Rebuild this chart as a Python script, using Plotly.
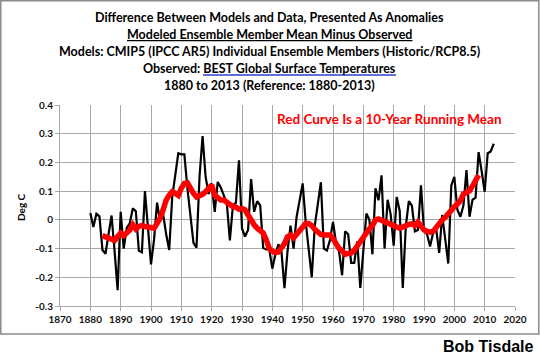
import plotly.graph_objects as go

years = list(range(1880, 2014))
diff = [
    0.024, -0.025, 0.021, 0.012, -0.105, -0.118, -0.05, 0.015, -0.11, -0.245,   # 1880s
    0.028, -0.10, -0.028, -0.012, 0.04, 0.03, -0.108, -0.113, 0.10, -0.015,     # 1890s
    -0.155, -0.07, 0.06, -0.005, 0.02, -0.05, -0.105, 0.08, 0.165, 0.232,       # 1900s
    0.228, 0.228, 0.11, 0.02, -0.08, -0.097, 0.15, 0.292, 0.15, 0.09,           # 1910s
    0.127, 0.028, 0.132, 0.113, 0.088, 0.057, -0.072, 0.05, 0.06, 0.207,        # 1920s
    -0.03, -0.058, -0.035, 0.142, 0.028, 0.065, 0.05, -0.098, -0.103, -0.103,   # 1930s
    -0.17, -0.12, -0.085, -0.11, -0.238, -0.11, -0.02, -0.10, 0.01, 0.072,      # 1940s
    0.127, -0.007, -0.10, -0.20, -0.02, 0.06, 0.131, -0.10, -0.107, -0.07,      # 1950s
    -0.007, -0.08, -0.11, -0.193, -0.04, -0.05, -0.15, -0.15, -0.075, -0.237,   # 1960s
    -0.09, 0.022, 0.0, -0.12, 0.11, 0.068, 0.155, -0.10, 0.07, 0.02,            # 1970s
    -0.09, 0.08, 0.03, -0.237, -0.023, 0.065, 0.05, -0.04, -0.035, 0.12,        # 1980s
    -0.04, -0.05, -0.093, -0.045, -0.03, -0.115, 0.017, -0.06, -0.152, 0.12,    # 1990s
    0.15, 0.035, 0.011, 0.05, 0.173, 0.011, 0.07, 0.077, 0.236, 0.17,           # 2000s
    0.098, 0.232, 0.238, 0.265,                                                 # 2010-2013
]

mean_years = list(range(1884, 2009))
running_mean = [
    -0.055, -0.060, -0.067, -0.069, -0.072, -0.058,                             # 1884-1889
    -0.046, -0.055, -0.045, -0.035, -0.017, -0.032, -0.023, -0.020, -0.023, -0.025,
    -0.029, -0.029, -0.012, 0.006, 0.035, 0.069, 0.086, 0.098, 0.092, 0.085,
    0.110, 0.127, 0.129, 0.109, 0.092, 0.080, 0.084, 0.089, 0.098, 0.109,
    0.121, 0.086, 0.075, 0.069, 0.069, 0.060, 0.052, 0.046, 0.044, 0.037,
    0.040, 0.035, 0.017, -0.002, -0.017, -0.029, -0.035, -0.046, -0.070, -0.100,
    -0.109, -0.114, -0.112, -0.100, -0.083, -0.059, -0.053, -0.063, -0.051, -0.036,
    -0.024, -0.013, -0.013, -0.020, -0.033, -0.042, -0.051, -0.053, -0.051, -0.053,
    -0.065, -0.083, -0.100, -0.106, -0.120, -0.117, -0.115, -0.106, -0.090, -0.080,
    -0.066, -0.043, -0.031, -0.020, 0.000, 0.003, -0.002, -0.008, -0.014, -0.020,
    -0.023, -0.025, -0.029, -0.023, -0.020, -0.016, -0.014, -0.020, -0.008, -0.023,
    -0.035, -0.040, -0.043, -0.040, -0.025, -0.014, 0.000, 0.009, 0.023, 0.038,
    0.046, 0.055, 0.067, 0.090, 0.095, 0.101, 0.118, 0.136, 0.156,
]

x_ticks = list(range(1870, 2021, 10))
y_ticks = [-0.3, -0.2, -0.1, 0.0, 0.1, 0.2, 0.3, 0.4]
y_tick_labels = ["-0.3", "-0.2", "-0.1", "0", "0.1", "0.2", "0.3", "0.4"]

title_lines = [
    "Difference Between Models and Data, Presented As Anomalies",
    "<u>Modeled Ensemble Member Mean Minus Observed</u>",
    "Models: CMIP5 (IPCC AR5) Individual Ensemble Members (Historic/RCP8.5)",
    "Observed: BEST Global Surface Temperatures",
    "1880 to 2013 (Reference: 1880-2013)",
]

W, H = 540, 356
L, R, T, B = 60, 25, 105, 50
PW, PH = W - L - R, H - T - B

def px(xp):
    return (xp - L) / PW

def py(yp):
    return (H - B - yp) / PH

fig = go.Figure()
fig.add_trace(go.Scatter(x=years, y=diff, mode="lines",
                         line=dict(color="black", width=2.2), showlegend=False))
fig.add_trace(go.Scatter(x=mean_years, y=running_mean, mode="lines",
                         line=dict(color="#ff0000", width=5.5), showlegend=False))

tfont = dict(family="Lato", size=12.5, color="black", weight="bold")
title_y = [17, 34.5, 52, 69, 85]
for txt, yy in zip(title_lines, title_y):
    fig.add_annotation(text=txt, x=px(269), y=py(yy), xref="paper", yref="paper",
                       showarrow=False, xanchor="center", yanchor="middle", font=tfont)

# blue hyperlink-style underline below "BEST Global Surface Temperatures"
fig.add_shape(type="line", xref="paper", yref="paper",
              x0=px(203), x1=px(396), y0=py(75), y1=py(75),
              line=dict(color="#2f3fc8", width=1.5))

fig.add_annotation(text="Red Curve Is a 10-Year Running Mean", x=px(389.5), y=py(119),
                   xref="paper", yref="paper", showarrow=False, xanchor="center",
                   yanchor="middle",
                   font=dict(family="Lato", size=13.5, color="#ff0000", weight="bold"))

fig.add_annotation(text="Deg C", x=px(21), y=py(207), xref="paper", yref="paper",
                   showarrow=False, textangle=-90, xanchor="center", yanchor="middle",
                   font=dict(family="Lato", size=10, color="black", weight="bold"))

fig.add_annotation(text="Bob Tisdale", x=px(535), y=py(346), xref="paper", yref="paper",
                   showarrow=False, xanchor="right", yanchor="middle",
                   font=dict(family="Liberation Sans", size=16, color="black", weight="bold"))

fig.add_shape(type="rect", xref="paper", yref="paper",
              x0=px(0.8), x1=px(538.8), y0=py(334), y1=py(0.8),
              line=dict(color="#8a8a8a", width=1.5), layer="below")

grid = "#a8a8a8"
fig.update_layout(
    width=W, height=H, margin=dict(l=L, r=R, t=T, b=B),
    plot_bgcolor="white", paper_bgcolor="white",
    xaxis=dict(range=[1870, 2020], tickvals=x_ticks, showgrid=True, gridcolor=grid,
               gridwidth=1, zeroline=False, showline=True, linecolor=grid,
               ticks="outside", ticklen=4, tickcolor=grid,
               tickfont=dict(family="Lato", size=10, color="#111", weight="bold")),
    yaxis=dict(range=[-0.3, 0.4], tickvals=y_ticks, ticktext=y_tick_labels,
               showgrid=True, gridcolor=grid, gridwidth=1, zeroline=False,
               showline=True, linecolor=grid, ticks="outside", ticklen=4,
               tickcolor=grid,
               tickfont=dict(family="Lato", size=10, color="#111", weight="bold")),
)

fig.write_html("out.html", config={"displayModeBar": False},
               post_script="document.body.style.margin='0px';")
